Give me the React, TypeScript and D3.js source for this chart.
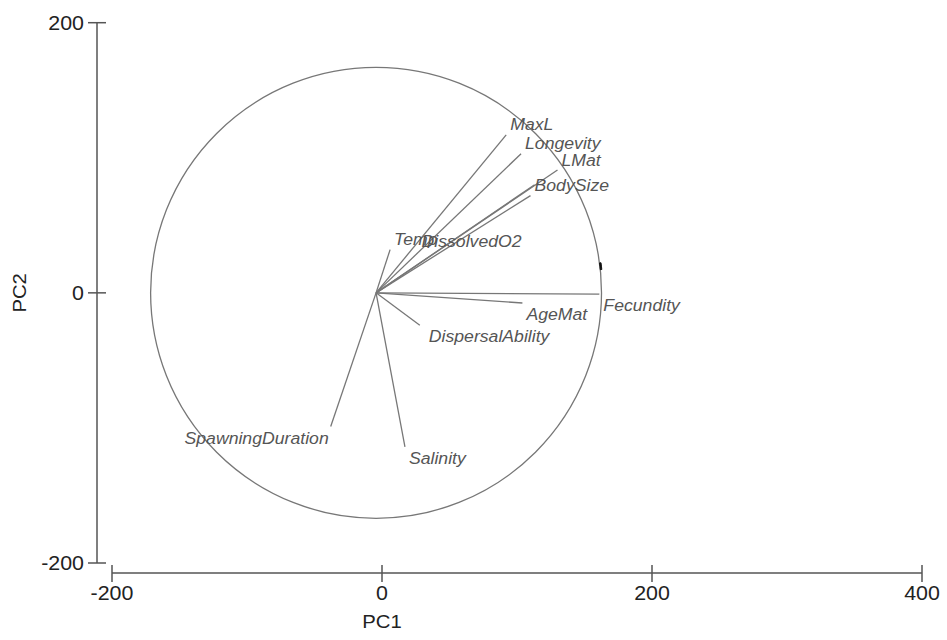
import * as d3 from 'd3';
import React, { useRef, useEffect } from 'react';

// loadings (PC1, PC2)
const variables = ['MaxL', 'Longevity', 'LMat', 'BodySize', 'DissolvedO2', 'Temp', 'Fecundity', 'AgeMat', 'DispersalAbility', 'SpawningDuration', 'Salinity'];
const pc1 = [92, 103, 130, 110, 113, 6, 161, 104, 28, -38, 17];
const pc2 = [117, 103, 91, 72, 80, 32, -1, -7.5, -24, -99, -114];
const origin = [-4.4, 0];
const circleRadius = 167;
const xTicks = [-200, 0, 200, 400];
const yTicks = [-200, 0, 200];

function App() {
  const svgRef = useRef(null);
  const width = 947;
  const height = 640;

  useEffect(() => {
    const svg = d3.select(svgRef.current);
    svg.selectAll('*').remove();

    const x = d3.scaleLinear().domain([-200, 400]).range([112, 922]);
    const y = d3.scaleLinear().domain([-200, 200]).range([563, 22.7]);
    const font = 'Liberation Sans, Arial, sans-serif';
    const stretch = 1.07; // glyphs in the original are a little wide

    const label = (px, py, txt, size, anchor, color) =>
      svg.append('text')
        .attr('transform', `translate(${px},${py}) scale(${stretch},1)`)
        .attr('text-anchor', anchor)
        .attr('font-family', font).attr('font-size', size)
        .attr('fill', color)
        .text(txt);

    // y axis
    const yAxisX = 97;
    svg.append('line')
      .attr('x1', yAxisX).attr('x2', yAxisX)
      .attr('y1', y(200)).attr('y2', y(-200))
      .attr('stroke', '#555').attr('stroke-width', 1.5);
    yTicks.forEach((t) => {
      svg.append('line')
        .attr('x1', yAxisX - 9).attr('x2', yAxisX + 9)
        .attr('y1', y(t)).attr('y2', y(t))
        .attr('stroke', '#555').attr('stroke-width', 1.5);
      label(yAxisX - 13, y(t) + 7, t, 20, 'end', '#222');
    });

    // x axis
    const xAxisY = 573;
    svg.append('line')
      .attr('x1', x(-200)).attr('x2', x(400))
      .attr('y1', xAxisY).attr('y2', xAxisY)
      .attr('stroke', '#555').attr('stroke-width', 1.5);
    xTicks.forEach((t) => {
      svg.append('line')
        .attr('x1', x(t)).attr('x2', x(t))
        .attr('y1', xAxisY - 8).attr('y2', xAxisY + 9)
        .attr('stroke', '#555').attr('stroke-width', 1.5);
      label(x(t), 600, t, 20, 'middle', '#222');
    });

    label(x(0), 628, 'PC1', 19, 'middle', '#222');
    svg.append('text')
      .attr('transform', `translate(26, ${y(0)}) rotate(-90) scale(${stretch},1)`)
      .attr('text-anchor', 'middle')
      .attr('font-family', font).attr('font-size', 19)
      .attr('fill', '#222')
      .text('PC2');

    // correlation circle
    const cx = x(origin[0]);
    const cy = y(origin[1]);
    const r = x(circleRadius) - x(0);
    svg.append('circle')
      .attr('cx', cx).attr('cy', cy).attr('r', r)
      .attr('fill', 'none').attr('stroke', '#777').attr('stroke-width', 1.3);

    // small dark mark on the circle
    const arc = d3.arc()
      .innerRadius(r).outerRadius(r + 1.5)
      .startAngle(Math.PI / 2 - 0.133).endAngle(Math.PI / 2 - 0.103);
    svg.append('path')
      .attr('transform', `translate(${cx},${cy})`)
      .attr('d', arc())
      .attr('fill', '#111').attr('stroke', '#111').attr('stroke-width', 1);

    // vectors
    variables.forEach((name, i) => {
      const ex = x(pc1[i]);
      const ey = y(pc2[i]);
      svg.append('line')
        .attr('x1', cx).attr('y1', cy)
        .attr('x2', ex).attr('y2', ey)
        .attr('stroke', '#777').attr('stroke-width', 1.3);
    });
    variables.forEach((name, i) => {
      const ex = x(pc1[i]);
      const ey = y(pc2[i]);
      let dx = 4;
      let dy = pc2[i] > 0 ? -5 : 17;
      let anchor = 'start';
      if (name === 'DispersalAbility') dx = 9;
      if (name === 'SpawningDuration') { dx = -2; anchor = 'end'; }
      if (name === 'DissolvedO2') { dx = -113; dy = 62; }
      if (name === 'LMat') dy = -4;
      label(ex + dx, ey + dy, name, 16.5, anchor, '#555')
        .attr('font-style', 'italic');
    });
  }, []);

  return (
    <svg
      ref={svgRef}
      width={width}
      height={height}
      style={{ position: 'absolute', left: 0, top: 0, background: '#fff' }}
    />
  );
}

export default App;
